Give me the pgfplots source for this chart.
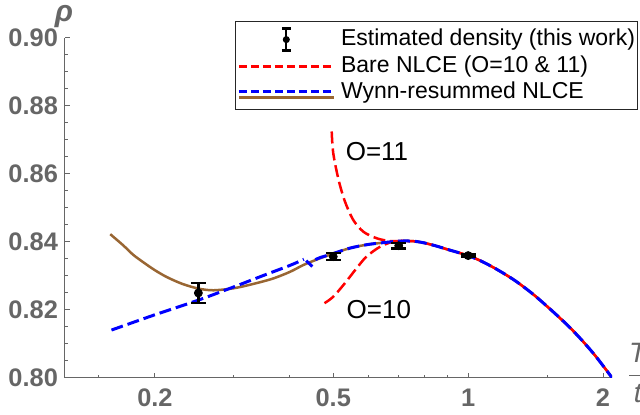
\documentclass[border=0pt]{standalone}
\usepackage{fontspec}
\setmainfont{Liberation Sans}
\usepackage{pgfplots}
\pgfplotsset{compat=1.18}
\definecolor{mmagray}{RGB}{102,102,102}
\definecolor{mmabrown}{RGB}{153,102,51}
\begin{document}
\begin{tikzpicture}
\begin{axis}[
  scale only axis, width=273.5pt, height=170pt,
  xmode=log, xmin=0.126, xmax=2.094, ymin=0.8, ymax=0.9,
  axis x line*=bottom, axis y line*=left,
  axis line style={mmagray, line width=0.5pt, -},
  tick style={mmagray, line width=0.5pt},
  tick align=inside, major tick length=2.5pt, minor tick length=1.7pt,
  xtick={0.2,0.5,1,2}, xticklabels={0.2,0.5,1,2},
  minor xtick={0.15,0.3,0.4,0.6,0.7,0.8,0.9,1.5},
  ytick={0.8,0.82,0.84,0.86,0.88,0.9},
  yticklabels={0.80,0.82,0.84,0.86,0.88,0.90},
  minor ytick={0.805,0.81,0.815,0.825,0.83,0.835,0.845,0.85,0.855,0.865,0.87,0.875,0.885,0.89,0.895},
  ticklabel style={font=\bfseries\fontsize{12.7}{14}\selectfont, text=mmagray},
  xticklabel style={yshift=-1.8pt},
  clip mode=individual,
  legend style={at={(1.0475,1.05)}, anchor=north east, draw=black!85, line width=0.5pt,
    fill=white, font=\fontsize{11.5}{13}\selectfont, inner xsep=1.2pt, inner ysep=3pt,
    row sep=2pt, nodes={inner sep=0pt, text height=8.5pt, text depth=2.5pt},
    /tikz/every odd column/.append style={column sep=3pt}},
  legend cell align=left,
]
% Wynn-resummed NLCE (brown)
\addplot[mmabrown, line width=1.25pt, smooth, forget plot] coordinates {
  (0.159,0.8423)(0.17,0.8390)(0.179,0.8362)(0.19,0.8337)(0.2,0.8317)(0.2125,0.8297)
  (0.23,0.8277)(0.25,0.8263)(0.27,0.8258)(0.3,0.8264)(0.33,0.8276)(0.366,0.8292)
  (0.4,0.8312)(0.43,0.8333)(0.467,0.8352)(0.5,0.8366)(0.545,0.8382)(0.6,0.8393)
  (0.68,0.8401)(0.72,0.8403)(0.76,0.8402)(0.8,0.8397)(0.85,0.8388)(0.9,0.8378)
  (1.0,0.8360)(1.084,0.8340)(1.178,0.8314)(1.28,0.8284)(1.397,0.8246)(1.52,0.8204)
  (1.664,0.8156)(1.78,0.8116)(1.904,0.8072)(2.0,0.8036)(2.094,0.8001)};
% bare NLCE, O=11
\addplot[red, line width=1.25pt, smooth, dash pattern=on 6pt off 2.5pt, forget plot] coordinates {
  (0.496,0.8725)(0.5,0.8661)(0.514,0.8582)(0.531,0.8519)(0.554,0.8465)(0.584,0.8430)
  (0.625,0.8411)(0.667,0.8403)(0.72,0.8403)(0.76,0.8402)(0.8,0.8397)(0.85,0.8388)
  (0.9,0.8378)(1.0,0.8360)(1.084,0.8340)(1.178,0.8314)(1.28,0.8284)(1.397,0.8246)
  (1.52,0.8204)(1.664,0.8156)(1.78,0.8116)(1.904,0.8072)(2.0,0.8036)(2.094,0.8001)};
% bare NLCE, O=10
\addplot[red, line width=1.25pt, smooth, dash pattern=on 6pt off 2.5pt, forget plot] coordinates {
  (0.478,0.8220)(0.5,0.8239)(0.531,0.8279)(0.56,0.8318)(0.593,0.8357)(0.636,0.8386)
  (0.68,0.8401)(0.72,0.8403)};
% Wynn-resummed NLCE (blue), three pieces around the pole near T=0.44
\addplot[blue, line width=1.5pt, smooth, dash pattern=on 6pt off 2.5pt, forget plot] coordinates {
  (0.16,0.8141)(0.2,0.8186)(0.25,0.8229)(0.3,0.8268)(0.35,0.8302)(0.4,0.8331)
  (0.43,0.8349)};
\addplot[blue, line width=1.5pt, forget plot] coordinates {
  (0.435,0.8345)(0.449,0.8328)};
\addplot[blue, line width=1.5pt, smooth, dash pattern=on 6pt off 2.5pt, forget plot] coordinates {
  (0.456,0.8348)(0.467,0.8354)(0.5,0.8366)(0.545,0.8382)
  (0.6,0.8393)(0.68,0.8401)(0.72,0.8403)(0.76,0.8402)(0.8,0.8397)(0.85,0.8388)
  (0.9,0.8378)(1.0,0.8360)(1.084,0.8340)(1.178,0.8314)(1.28,0.8284)(1.397,0.8246)
  (1.52,0.8204)(1.664,0.8156)(1.78,0.8116)(1.904,0.8072)(2.0,0.8036)(2.094,0.8001)};
% estimated density
\addplot[black, only marks, mark=*, mark size=2pt, forget plot,
  error bars/.cd, y dir=both, y explicit,
  error bar style={line width=1.2pt},
  error mark options={rotate=90, mark size=3.75pt, line width=1.2pt}]
  coordinates {
  (0.25,0.8250) +- (0,0.0030)
  (0.5,0.8357) +- (0,0.0010)
  (0.7,0.8389) +- (0,0.0008)
  (1.0,0.8360) +- (0,0.0003)};

\addlegendimage{legend image code/.code={
  \draw[black, line width=1.1pt] (23.75pt,-5.5pt)--(23.75pt,5.5pt)
    (21.5pt,5.5pt)--(26pt,5.5pt) (21.5pt,-5.5pt)--(26pt,-5.5pt);
  \fill[black] (23.75pt,0pt) circle (1.5pt);}}
\addlegendentry{Estimated density (this work)}
\addlegendimage{legend image code/.code={
  \draw[red, line width=1.2pt, dash pattern=on 4pt off 2pt] (0pt,0pt)--(47.5pt,0pt);}}
\addlegendentry{Bare NLCE (O=10 \& 11)}
\addlegendimage{legend image code/.code={
  \draw[mmabrown, line width=1.3pt] (0pt,-2.3pt)--(47.5pt,-2.3pt);
  \draw[blue, line width=1.3pt, dash pattern=on 4pt off 2pt] (0pt,0.6pt)--(47.5pt,0.6pt);}}
\addlegendentry{Wynn-resummed NLCE}

\node[font=\fontsize{13}{14}\selectfont] at (axis cs:0.626,0.8665) {O=11};
\node[font=\fontsize{13}{14}\selectfont] at (axis cs:0.632,0.8200) {O=10};
\node[text=mmagray, font=\bfseries\itshape\fontsize{15}{15}\selectfont]
  at (rel axis cs:-0.002,1.062) {ρ};
\node[text=mmagray, font=\itshape\fontsize{14}{14}\selectfont, inner sep=0pt]
  at (rel axis cs:1.047,0.015) {$\displaystyle\frac{\mbox{T}}{\mbox{t}}$};
\end{axis}
\pgfresetboundingbox
\path (-32.5pt,-18.5pt) rectangle (287.5pt,189pt);
\end{tikzpicture}
\end{document}
